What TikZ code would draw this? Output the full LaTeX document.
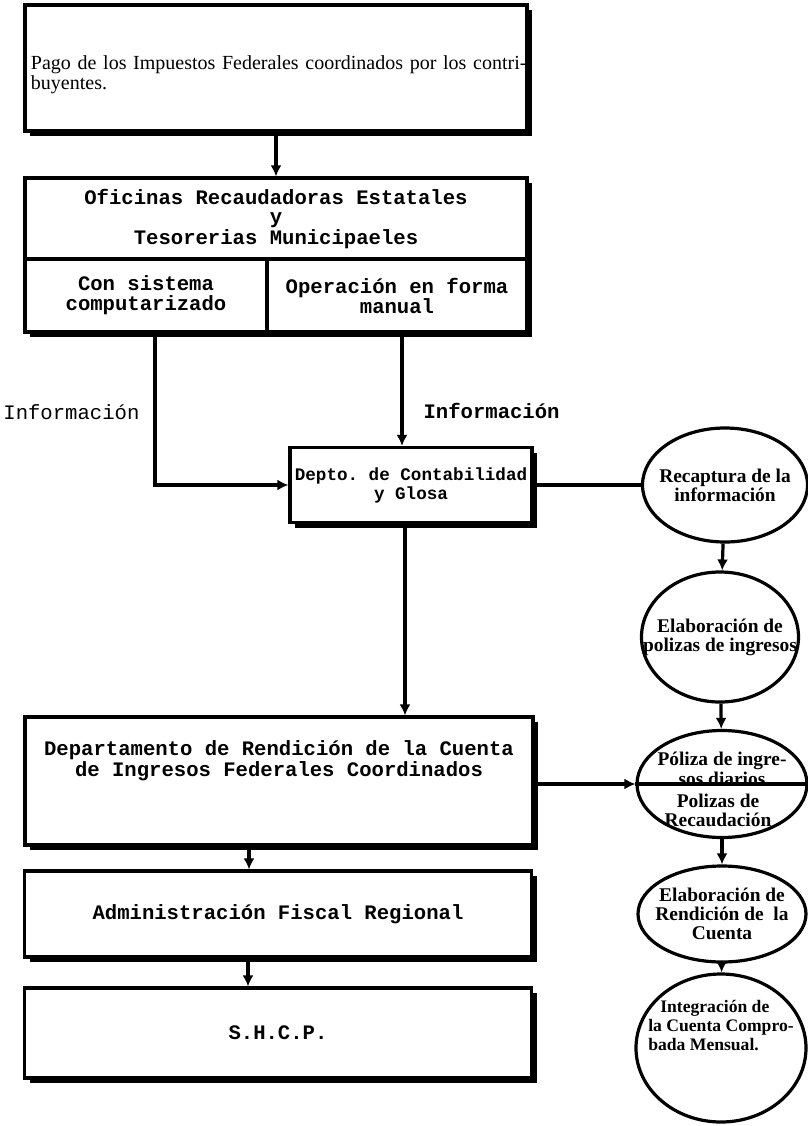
\documentclass[tikz,border=0pt]{standalone}
\usepackage{fontspec}
\setmainfont{Liberation Serif}
\setmonofont{Liberation Mono}
\usetikzlibrary{positioning,shapes.geometric,shadows,arrows.meta}

\begin{document}
\begin{tikzpicture}[x=0.5pt, y=-0.5pt,
    box/.style={draw, line width=1.6pt, fill=white,
      drop shadow={shadow xshift=2.5pt, shadow yshift=-2.5pt, fill=black, opacity=1}},
    cell/.style={draw, line width=1.6pt, align=center,
      font=\ttfamily\bfseries\fontsize{10.3}{10}\selectfont},
    boxtext/.style={align=center, inner sep=0pt,
      font=\ttfamily\bfseries\fontsize{10.3}{9.3}\selectfont},
    plaintext/.style={inner sep=0pt, font=\ttfamily\fontsize{10.3}{9.3}\selectfont},
    oval/.style={ellipse, draw, line width=1.6pt, fill=white, inner sep=-40pt,
      align=center, font=\bfseries\fontsize{9.7}{9.5}\selectfont},
    ovaltext/.style={align=center, inner sep=0pt,
      font=\bfseries\fontsize{9.7}{9.5}\selectfont},
    link/.style={line width=1.6pt},
    arrow/.style={link, -{Latex[length=5.5pt, width=5.5pt]}},
  ]
  \path[use as bounding box, fill=white] (0,0) rectangle (808,1126);

  % left column
  \node[box, minimum width=251pt, minimum height=63pt]
        (pago)    at (276,68)     {};
  \node[inner sep=0pt, text width=248pt, align=left, font=\fontsize{10}{7.5}\selectfont]
        (pagoT)   at (279,75)     {Pago de los Impuestos Federales coordinados por los contri-\\buyentes.};
  \node[box, minimum width=251pt, minimum height=77pt]
        (ofic)    at (276,255)    {};
  \draw[arrow] (pago) -- (ofic);
  \node[boxtext] (oficT)   at (276,219)    {Oficinas Recaudadoras Estatales\\y\\Tesorerias Municipaeles};
  \node[cell, minimum width=121pt, minimum height=36.5pt]
        (consis)  at (146,295.5)  {Con sistema\\computarizado};
  \node[cell, minimum width=130pt, minimum height=36.5pt]
        (opman)   at (397,295.5)  {Operación en forma\\manual};
  \node[box, boxtext, minimum width=121pt, minimum height=37.5pt,
        font=\ttfamily\bfseries\fontsize{8.8}{9.5}\selectfont]
        (depto)   at (411,485)    {Depto. de Contabilidad\\y Glosa};
  \draw[arrow] ([xshift=4.5pt]consis.south) |- (depto.west)
        node[plaintext, pos=.26, left=7pt] (infoA) {Información};
  \draw[arrow] ([xshift=2.5pt]opman.south) -- ([xshift=2.5pt]opman.south |- depto.north)
        node[boxtext, pos=.69, right=10pt] (infoB) {Información};
  \node[box, minimum width=254pt, minimum height=64pt]
        (rend)    at (279,781)    {};
  \node[boxtext] (rendT)   at (279,761)    {Departamento de Rendición de la Cuenta\\de Ingresos Federales Coordinados};
  \draw[arrow] ([xshift=-3pt]depto.south) -- ([xshift=-3pt]depto.south |- rend.north);
  \node[box, boxtext, minimum width=253.5pt, minimum height=43pt]
        (admin)   at (278,914)    {Administración Fiscal Regional};
  \draw[arrow] ([xshift=-15pt]rend.south) -- ([xshift=-15pt]rend.south |- admin.north);
  \node[box, boxtext, minimum width=253.5pt, minimum height=45pt]
        (shcp)    at (278,1033)   {S.H.C.P.};
  \draw[arrow] ([xshift=-15pt]admin.south) -- ([xshift=-15pt]admin.south |- shcp.north);

  % right column
  \node[oval, minimum width=82.5pt, minimum height=57pt]
        (recap)   at (725,485)    {Recaptura de la\\información};
  \draw[link] (depto) -- (recap);
  \node[oval, minimum width=78.5pt, minimum height=65pt]
        (elabpol) at (720,637)    {Elaboración de\\polizas de ingresos};
  \draw[arrow] (recap) -- (elabpol);
  \node[oval, minimum width=85pt, minimum height=53.5pt]
        (poliza)  at (722,784)    {};
  \draw[link] (poliza.west) -- (poliza.east);
  \node[ovaltext, font=\bfseries\fontsize{9.7}{7}\selectfont]
        (polA)    at (722,769)    {Póliza de ingre-\\sos diarios};
  \node[ovaltext] (polB)    at (718,810)    {Polizas de\\Recaudación};
  \draw[arrow] (elabpol) -- (poliza);
  \draw[arrow] (rend.east |- poliza.west) -- (poliza.west);
  \node[oval, minimum width=84pt, minimum height=48pt]
        (elabren) at (722,914)    {Elaboración de\\Rendición de\ \ la\\Cuenta};
  \draw[arrow] (poliza) -- (elabren);
  \node[oval, minimum width=85pt, minimum height=74pt]
        (integ)   at (721,1048)   {};
  \node[ovaltext, align=left, font=\bfseries\fontsize{8.8}{9.5}\selectfont]
        (integT)  at (721,1025)   {\hspace*{6pt}Integración de\\la Cuenta Compro-\\bada Mensual.};
  \draw[arrow] (elabren) -- (integ);
\end{tikzpicture}
\end{document}
